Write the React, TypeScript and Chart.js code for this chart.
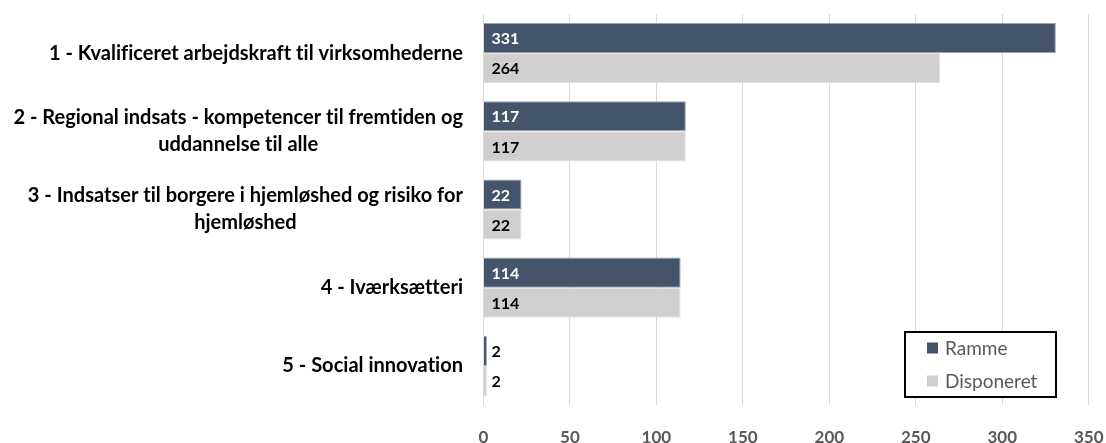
import React, { useEffect, useRef } from "react";
import { Chart, registerables } from "chart.js";

Chart.register(...registerables);

const categories: string[][] = [
  ["1 - Kvalificeret arbejdskraft til virksomhederne"],
  ["2 - Regional indsats - kompetencer til fremtiden og", "uddannelse til alle"],
  ["3 - Indsatser til borgere i hjemløshed og risiko for", "hjemløshed"],
  ["4 - Iværksætteri"],
  ["5 - Social innovation"],
];
const seriesNames = ["Ramme", "Disponeret"];
const ramme = [331, 117, 22, 114, 2];
const disponeret = [264, 117, 22, 114, 2];
const xMin = 0;
const xMax = 350;
const xStep = 50;

const DARK = "#44546A";
const LIGHT = "#D0CECE";
const FONT = "Lato";

function noLig(ctx: any) {
  try {
    ctx.letterSpacing = "0.01px";
  } catch (e) {}
}

const overlayPlugin = {
  id: "overlay",
  afterDatasetsDraw(chart: any) {
    const ctx: CanvasRenderingContext2D = chart.ctx;
    const xs = chart.scales.x;
    const ys = chart.scales.y;
    ctx.save();
    noLig(ctx);
    ctx.fillStyle = "#000000";
    ctx.textBaseline = "middle";
    const lh = 27;
    ctx.font = `bold 16px ${FONT}`;
    const wA = ctx.measureText(categories[0][0]).width;
    const wB = ctx.measureText(categories[1][0]).width;
    const size = Math.max(12, Math.min(21, (16 * 428) / wA, (16 * 450) / wB));
    ctx.font = `bold ${size.toFixed(2)}px ${FONT}`;
    const rightX = 463;
    categories.forEach((lines, i) => {
      const cy = ys.getPixelForValue(i);
      const start = cy - ((lines.length - 1) * lh) / 2;
      const w1 = ctx.measureText(lines[0]).width;
      const centerX = rightX - w1 / 2;
      lines.forEach((ln, j) => {
        if (j === 0) {
          ctx.textAlign = "right";
          ctx.fillText(ln, rightX, start);
        } else {
          ctx.textAlign = "center";
          ctx.fillText(ln, centerX, start + j * lh);
        }
      });
    });
    ctx.font = `bold 16px ${FONT}`;
    ctx.textAlign = "left";
    chart.data.datasets.forEach((ds: any, di: number) => {
      const meta = chart.getDatasetMeta(di);
      meta.data.forEach((el: any, i: number) => {
        const txt = String(ds.data[i]);
        const x0 = xs.getPixelForValue(0);
        const barW = xs.getPixelForValue(ds.data[i]) - x0;
        const tw = ctx.measureText(txt).width;
        const inside = barW > tw + 12;
        ctx.fillStyle = di === 0 && inside ? "#FFFFFF" : "#000000";
        ctx.fillText(txt, x0 + 8, el.y + 1);
      });
    });
    ctx.restore();
  },
  afterDraw(chart: any) {
    const ctx: CanvasRenderingContext2D = chart.ctx;
    ctx.save();
    const bx = 905, by = 332, bw = 151, bh = 65;
    ctx.fillStyle = "#FFFFFF";
    ctx.fillRect(bx, by, bw, bh);
    ctx.strokeStyle = "#000000";
    ctx.lineWidth = 2;
    ctx.strokeRect(bx, by, bw, bh);
    const colors = [DARK, LIGHT];
    ctx.font = `19px ${FONT}`;
    ctx.textBaseline = "middle";
    ctx.textAlign = "left";
    seriesNames.forEach((name, i) => {
      const cy = by + 16 + i * 33;
      ctx.fillStyle = colors[i];
      ctx.fillRect(927, cy - 5.5, 11, 11);
      ctx.fillStyle = "#595959";
      ctx.fillText(name, 945, cy + 1);
    });
    ctx.restore();
  },
};

export default function App() {
  const ref = useRef<HTMLCanvasElement | null>(null);
  useEffect(() => {
    if (!ref.current) return;
    const chart = new Chart(ref.current, {
      type: "bar",
      data: {
        labels: categories.map((c) => c.join(" ")),
        datasets: [
          {
            label: seriesNames[0],
            data: ramme,
            backgroundColor: DARK,
            borderColor: "#9AA2AE",
            borderWidth: 1,
            categoryPercentage: 0.77,
            barPercentage: 1,
          },
          {
            label: seriesNames[1],
            data: disponeret,
            backgroundColor: LIGHT,
            borderColor: "#E2E1E1",
            borderWidth: 1,
            categoryPercentage: 0.77,
            barPercentage: 1,
          },
        ],
      },
      options: {
        indexAxis: "y",
        animation: false,
        responsive: true,
        maintainAspectRatio: false,
        layout: { padding: { left: 483.5, right: 17.3, top: 14, bottom: 0 } },
        plugins: {
          legend: { display: false },
          tooltip: { enabled: false },
        },
        scales: {
          y: {
            display: false,
          },
          x: {
            min: xMin,
            max: xMax,
            grid: { color: "#D9D9D9", drawTicks: false },
            border: { display: false },
            afterFit: (s: any) => {
              s.height = 38;
              s.paddingLeft = 0;
              s.paddingRight = 0;
            },
            ticks: {
              stepSize: xStep,
              padding: 22,
              color: "#595959",
              font: { family: FONT, size: 17, weight: "bold" },
            },
          },
        },
      },
      plugins: [overlayPlugin],
    });
    return () => chart.destroy();
  }, []);
  return (
    <div style={{ position: "absolute", left: 0, top: 0, width: 1106, height: 443, background: "#fff" }}>
      <canvas ref={ref} />
    </div>
  );
}
